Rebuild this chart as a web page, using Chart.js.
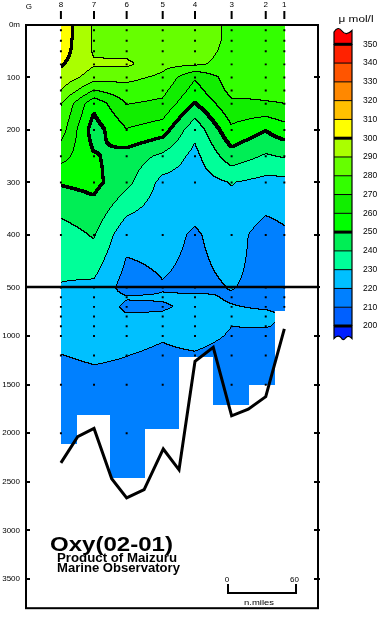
<!DOCTYPE html>
<html>
<head>
<meta charset="utf-8">
<title>Oxy(02-01)</title>
<script src="https://cdn.jsdelivr.net/npm/chart.js@4.4.1/dist/chart.umd.min.js"></script>
<style>
  html, body { margin: 0; padding: 0; background: #fff; }
  canvas { display: block; }
</style>
</head>
<body>
<canvas id="chart" width="381" height="619"></canvas>
<script>
(function(){
  // stations from west (8) to east (1), distance in n.miles from G
  const stationNames = ['8','7','6','5','4','3','2','1'];
  const stationDist = [28.2, 57.4, 86.2, 118.0, 146.5, 178.8, 208.9, 225.3];
  const stationMaxDepth = [2110, 1815, 2460, 1960, 1215, 1710, 1505, 745];

  const depths = [0,25,50,75,100,125,150,200,250,300,400,500,600,700,800,900,1000,1200,1500,2000,2500];
  // dissolved oxygen (umol/l), one list per station, aligned with depths
  const oxySt8 = [306,306,305,301,297,290,281,275,264,251,235,229.5,228,227,226,225,224,219.9,217,215,null];
  const oxySt7 = [289,289,289,291,285,270,253,245,251,253,241,228,224,223.5,223,222.5,222,221,218,null,null];
  const oxySt6 = [287,287,287,292,283,276,270.5,259.5,246,243,223,216,220.5,219,220.5,222,222,220.1,218,216,215];
  const oxySt5 = [286,286,285.5,283,278,273,268,255,238,227,223,219.5,220.5,219.5,220.5,221,220.5,219,217,null,null];
  const oxySt4 = [286,286,285,282,261,256,249.5,233,227,225,219,218,221,221,222,222.5,222,219.5,null,null,null];
  const oxySt3 = [278,278,277,276,275,273,268,258,246,230.5,224,220.3,219.5,220.2,221,220.05,219.5,218,217,null,null];
  const oxySt2 = [278,278,277,276,275,272,269.5,250.5,239,227,216,218,218.5,219.5,221,220.2,219,218,217,null,null];
  const oxySt1 = [277,277,276,275,274,272,270,256,241,227,218.5,218,218.5,219.5,null,null,null,null,null,null,null];
  const oxyColumns = [oxySt8, oxySt7, oxySt6, oxySt5, oxySt4, oxySt3, oxySt2, oxySt1];

  const sampleDepths = [10,30,50,75,100,125,150,200,250,300,400,500,600,700,800,900,1000,1200,1500,2000,2500];

  // sea bottom profile
  const bottomDist = [28.2,43.0,57.4,73.0,86.2,101.6,118.5,132.4,146.5,162.6,178.8,193.5,208.9,225.3];
  const bottomDepth = [2305,2035,1950,2468,2665,2581,2162,2376,1259,1116,1821,1753,1624,926];

  const levels = [200,210,220,230,240,250,260,270,280,290,300,310,320,330,340,350];
  const boldLevels = [200,250,300,350];
  const levelColors = ['#0020ff','#0060ff','#0080ff','#00c0ff','#00ff99','#00ee55','#00ff00','#11ee00',
                       '#33ff00','#66ff00','#aaff00','#ffff00','#ffc000','#ff8800','#ff5500','#ff2200','#ff0000'];

  const depthTicks = [0,100,200,300,400,500,1000,1500,2000,2500,3000,3500];
  const scaleBarStart = 175.6, scaleBarLength = 60;

  const BREAK_DEPTH = 500, UPPER_STRETCH = 5.4, DEPTH_MAX = 3800;
  const FONT = '"Liberation Sans", Arial, sans-serif';

  // depth axis: 0-500 m stretched, 500 m - bottom compressed
  class DepthScale extends Chart.LinearScale {
    getPixelForValue(v){
      const up = BREAK_DEPTH * UPPER_STRETCH, tot = up + DEPTH_MAX - BREAK_DEPTH;
      const f = v <= BREAK_DEPTH ? v * UPPER_STRETCH : up + (v - BREAK_DEPTH);
      return this.top + f / tot * (this.bottom - this.top);
    }
    getValueForPixel(p){
      const up = BREAK_DEPTH * UPPER_STRETCH, tot = up + DEPTH_MAX - BREAK_DEPTH;
      const f = (p - this.top) / (this.bottom - this.top) * tot;
      return f <= up ? f / UPPER_STRETCH : BREAK_DEPTH + (f - up);
    }
  }
  DepthScale.id = 'depth';
  Chart.register(DepthScale);

  function gridValue(si, di){
    const col = oxyColumns[si];
    let k = di;
    while (col[k] == null && k > 0) k--;
    return col[k];
  }
  function oxyAt(xv, dv){
    let i = 0;
    while (i < stationDist.length - 2 && xv > stationDist[i+1]) i++;
    const tx = Math.min(1, Math.max(0, (xv - stationDist[i]) / (stationDist[i+1] - stationDist[i])));
    let j = 0;
    while (j < depths.length - 2 && dv > depths[j+1]) j++;
    const ty = Math.min(1, Math.max(0, (dv - depths[j]) / (depths[j+1] - depths[j])));
    const a = gridValue(i, j), b = gridValue(i+1, j), c = gridValue(i, j+1), d = gridValue(i+1, j+1);
    return (a*(1-tx) + b*tx) * (1-ty) + (c*(1-tx) + d*tx) * ty;
  }
  function cellStation(xv){
    for (let i = 0; i < stationDist.length - 1; i++){
      if (xv < (stationDist[i] + stationDist[i+1]) / 2) return i;
    }
    return stationDist.length - 1;
  }
  function bandOf(v){
    let b = 0;
    while (b < levels.length && v >= levels[b]) b++;
    return b;
  }
  function hexRgb(h){
    return [parseInt(h.slice(1,3),16), parseInt(h.slice(3,5),16), parseInt(h.slice(5,7),16)];
  }

  const contourPlugin = {
    id: 'oxyContours',
    beforeDatasetsDraw(chart){
      const {ctx, chartArea: area, scales: {x, y}} = chart;
      const x0 = Math.round(x.getPixelForValue(stationDist[0]));
      const x1 = Math.round(x.getPixelForValue(stationDist[stationDist.length-1])) + 1;
      const y0 = Math.round(area.top), y1 = Math.round(area.bottom);
      const w = x1 - x0, h = y1 - y0;
      const band = new Int8Array(w * h).fill(-1);
      for (let j = 0; j < h; j++){
        const dv = y.getValueForPixel(y0 + j + 0.5);
        for (let i = 0; i < w; i++){
          const xv = x.getValueForPixel(x0 + i + 0.5);
          if (dv > stationMaxDepth[cellStation(xv)]) continue;
          band[j*w + i] = bandOf(oxyAt(xv, dv));
        }
      }
      // contour lines where the band changes
      const ink = new Uint8Array(w * h);
      const mark = (i, j, b1, b2) => {
        const lo = Math.min(b1, b2), hi = Math.max(b1, b2);
        let bold = false;
        for (let k = lo; k < hi; k++) if (boldLevels.includes(levels[k])) bold = true;
        if (!bold){ ink[j*w + i] = 1; return; }
        for (let dj = -1; dj <= 1; dj++) for (let di = -1; di <= 1; di++){
          const ii = i + di, jj = j + dj;
          if (ii >= 0 && ii < w && jj >= 0 && jj < h && band[jj*w + ii] >= 0) ink[jj*w + ii] = 1;
        }
      };
      for (let j = 0; j < h; j++){
        for (let i = 0; i < w; i++){
          const b = band[j*w + i];
          if (b < 0) continue;
          if (i + 1 < w){ const r = band[j*w + i + 1]; if (r >= 0 && r !== b) mark(i, j, b, r); }
          if (j + 1 < h){ const d = band[(j+1)*w + i]; if (d >= 0 && d !== b) mark(i, j, b, d); }
        }
      }
      const rgb = levelColors.map(hexRgb);
      const img = ctx.createImageData(w, h);
      for (let k = 0; k < w * h; k++){
        const b = band[k];
        if (b < 0) continue;
        const c = ink[k] ? [0,0,0] : rgb[b];
        img.data[k*4] = c[0]; img.data[k*4+1] = c[1]; img.data[k*4+2] = c[2]; img.data[k*4+3] = 255;
      }
      const off = document.createElement('canvas');
      off.width = w; off.height = h;
      off.getContext('2d').putImageData(img, 0, 0);
      ctx.drawImage(off, x0, y0);
    }
  };

  function seg(ctx, ax, ay, bx, by){
    ctx.beginPath(); ctx.moveTo(ax, ay); ctx.lineTo(bx, by); ctx.stroke();
  }
  function fitText(ctx, text, x, y, width, align){
    const tw = ctx.measureText(text).width;
    ctx.save();
    ctx.translate(x, y);
    ctx.scale(width / tw, 1);
    ctx.textAlign = 'left';
    ctx.fillText(text, align === 'center' ? -tw / 2 : 0, 0);
    ctx.restore();
  }

  function drawColorbar(ctx){
    const L = 334, R = 352;
    const yAt = v => 326 - (v - 200) * 1.878;
    for (let b = 1; b < levels.length; b++){
      ctx.fillStyle = levelColors[b];
      ctx.fillRect(L, yAt(levels[b]), R - L, yAt(levels[b-1]) - yAt(levels[b]));
    }
    ctx.lineWidth = 1.2;
    ctx.beginPath();
    ctx.moveTo(L, yAt(350)); ctx.lineTo(L, 32);
    ctx.quadraticCurveTo(338, 25.5, 342, 31);
    ctx.quadraticCurveTo(346, 36.5, R, 30.5);
    ctx.lineTo(R, yAt(350)); ctx.closePath();
    ctx.fillStyle = levelColors[levels.length]; ctx.fill(); ctx.stroke();
    ctx.beginPath();
    ctx.moveTo(L, yAt(200)); ctx.lineTo(L, 338.5);
    ctx.quadraticCurveTo(337.5, 334.5, 341, 337.5);
    ctx.quadraticCurveTo(343, 341.5, 345.5, 338);
    ctx.quadraticCurveTo(348.5, 334.5, R, 338.5);
    ctx.lineTo(R, yAt(200)); ctx.closePath();
    ctx.fillStyle = levelColors[0]; ctx.fill(); ctx.stroke();
    levels.forEach(v => {
      ctx.lineWidth = boldLevels.includes(v) ? 3 : 1;
      seg(ctx, L, yAt(v), R, yAt(v));
    });
    ctx.lineWidth = 1.2;
    seg(ctx, L, yAt(350), L, yAt(200));
    seg(ctx, R, yAt(350), R, yAt(200));
    ctx.fillStyle = '#000';
    ctx.font = '8.5px ' + FONT;
    ctx.textAlign = 'left'; ctx.textBaseline = 'middle';
    levels.forEach(v => ctx.fillText(String(v), 363, yAt(v)));
    fitText(ctx, 'μ mol/l', 356, 20, 35, 'center');
  }

  const framePlugin = {
    id: 'sectionFrame',
    afterDraw(chart){
      const {ctx, chartArea: a, scales: {x, y}} = chart;
      ctx.save();
      ctx.strokeStyle = '#000'; ctx.fillStyle = '#000';
      // 500 m break line
      ctx.lineWidth = 2.5;
      const yb = Math.round(y.getPixelForValue(BREAK_DEPTH));
      seg(ctx, a.left, yb, a.right, yb);
      // frame
      ctx.lineWidth = 2;
      ctx.strokeRect(a.left, a.top, a.right - a.left, a.bottom - a.top);
      depthTicks.forEach(d => {
        if (d === 0) return;
        const py = Math.round(y.getPixelForValue(d));
        seg(ctx, a.left, py, a.left + 4, py);
        seg(ctx, a.right - 4, py, a.right + 2, py);
      });
      // station marks along the top
      ctx.font = '8px ' + FONT;
      ctx.textAlign = 'center'; ctx.textBaseline = 'middle';
      ctx.fillText('G', x.getPixelForValue(0), 7);
      stationNames.forEach((n, i) => {
        const px = x.getPixelForValue(stationDist[i]);
        ctx.fillText(n, px, 5);
        seg(ctx, px, 11, px, 19);
      });
      drawColorbar(ctx);
      // title block
      ctx.fillStyle = '#000';
      ctx.textBaseline = 'alphabetic';
      ctx.font = 'bold 21px ' + FONT;
      fitText(ctx, 'Oxy(02-01)', a.left + 24, 551, 123, 'left');
      ctx.font = 'bold 12px ' + FONT;
      fitText(ctx, 'Product of Maizuru', a.left + 31, 561.5, 120, 'left');
      fitText(ctx, 'Marine Observatory', a.left + 31, 571.5, 123, 'left');
      // distance scale bar
      const bx0 = x.getPixelForValue(scaleBarStart);
      const bx1 = x.getPixelForValue(scaleBarStart + scaleBarLength);
      ctx.lineWidth = 2;
      ctx.beginPath();
      ctx.moveTo(bx0, 584); ctx.lineTo(bx0, 593); ctx.lineTo(bx1, 593); ctx.lineTo(bx1, 584);
      ctx.stroke();
      ctx.font = '8px ' + FONT;
      ctx.textAlign = 'center'; ctx.textBaseline = 'middle';
      ctx.fillText('0', bx0 - 1, 580);
      ctx.fillText('60', bx1 - 1.5, 580);
      fitText(ctx, 'n.miles', (bx0 + bx1) / 2 - 3, 603, 30, 'center');
      ctx.restore();
    }
  };

  const samplePoints = [];
  stationDist.forEach((d, i) => {
    sampleDepths.forEach(z => { if (z <= stationMaxDepth[i] + 25) samplePoints.push({x: d, y: z}); });
  });

  new Chart(document.getElementById('chart').getContext('2d'), {
    type: 'scatter',
    data: {
      datasets: [
        {
          label: 'bottom',
          data: bottomDist.map((d, i) => ({x: d, y: bottomDepth[i]})),
          showLine: true, borderColor: '#000', borderWidth: 3,
          pointRadius: 0, tension: 0, fill: false
        },
        {
          label: 'samples',
          data: samplePoints,
          pointStyle: 'rect', pointRadius: 1.4,
          backgroundColor: '#000', borderWidth: 0
        }
      ]
    },
    options: {
      responsive: false,
      animation: false,
      events: [],
      layout: { padding: { top: 25, right: 63, bottom: 7, left: 0 } },
      plugins: { legend: { display: false }, tooltip: { enabled: false } },
      scales: {
        x: { type: 'linear', min: -2.6, max: 255, bounds: 'data', display: false },
        y: {
          type: 'depth', min: 0, max: DEPTH_MAX, bounds: 'data', position: 'left',
          grid: { display: false, drawTicks: false },
          border: { display: false },
          afterBuildTicks: s => { s.ticks = depthTicks.map(v => ({value: v})); },
          afterFit: s => { s.width = 26; },
          ticks: {
            autoSkip: false, padding: 6, color: '#000',
            font: { family: FONT, size: 8 },
            callback: v => v === 0 ? '0m' : String(v)
          }
        }
      }
    },
    plugins: [contourPlugin, framePlugin]
  });
})();
</script>
</body>
</html>
